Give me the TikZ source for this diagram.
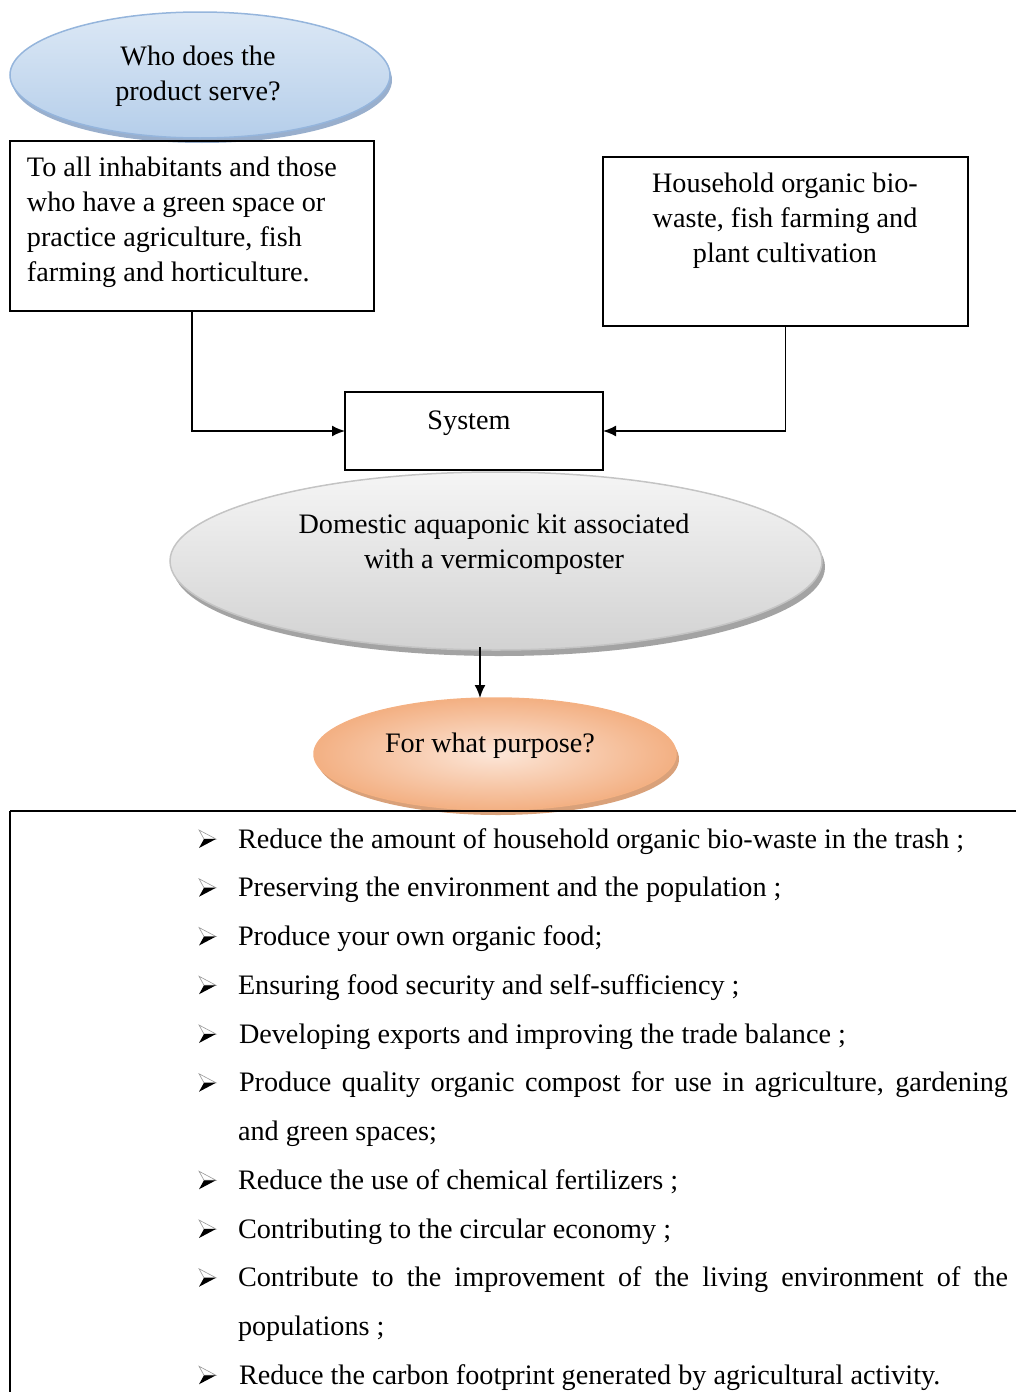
\documentclass[tikz,border=0pt]{standalone}
\usepackage{fontspec}
\setmainfont{Liberation Serif}
\usetikzlibrary{shapes.geometric,arrows.meta}
\definecolor{bluetop}{HTML}{DCE8F5}
\definecolor{bluebot}{HTML}{B5CEEA}
\definecolor{blueline}{HTML}{95B5DC}
\definecolor{blueshad}{HTML}{7F9BC0}
\definecolor{graytop}{HTML}{F5F5F5}
\definecolor{graybot}{HTML}{D2D2D2}
\definecolor{grayline}{HTML}{C4C4C4}
\definecolor{grayshad}{HTML}{A3A3A3}
\definecolor{orin}{HTML}{FCE6D8}
\definecolor{orout}{HTML}{F3B083}
\definecolor{orline}{HTML}{F4B183}
\definecolor{orshad}{HTML}{D9A17A}
\begin{document}
\begin{tikzpicture}[x=1pt,y=-1pt,
  every node/.style={font=\fontsize{28.2}{35}\selectfont, inner sep=0pt, outer sep=0pt},
  box/.style={draw=black,line width=1.5pt,rectangle},
  arr/.style={line width=1.8pt,-{Latex[length=13pt,width=11pt]}},
  item/.style={anchor=base west},
  bulletup/.style={fill=white,draw=gray!80,line width=0.6pt},
  bulletdn/.style={fill=black}]
\useasboundingbox (0,0) rectangle (1016,1392);

% ---- ellipse 1 ----
\fill[blueshad,opacity=0.8] (202,80) ellipse [x radius=190, y radius=63];
\node[ellipse, minimum width=380pt, minimum height=126pt, draw=blueline, line width=1.5pt,
      top color=bluetop, bottom color=bluebot] (e1) at (200,75) {};
\node[anchor=north, align=center] (e1t) at (198,45.7) {Who does the\\product serve?};

% ---- boxes ----
\node[box, minimum width=364pt, minimum height=170pt] (b1) at (192,226) {};
\node[anchor=north west, align=left] (b1t) at (27,156.7)
  {To all inhabitants and those\\who have a green space or\\practice agriculture, fish\\farming and horticulture.};
\node[box, minimum width=365pt, minimum height=169pt] (b2) at (785.5,241.5) {};
\node[anchor=north, align=center] (b2t) at (785,172.7)
  {Household organic bio-\\waste, fish farming and\\plant cultivation};
\node[box, minimum width=258pt, minimum height=78pt] (sys) at (474,431) {};
\node[anchor=base] (syst) at (469,429) {System};

\draw[arr] (b1.south) |- (sys.west);
\draw[arr] (b2.south) |- (sys.east);

% ---- ellipse 2 ----
\fill[grayshad] (499,567) ellipse [x radius=326, y radius=89];
\node[ellipse, minimum width=652pt, minimum height=178pt, draw=grayline, line width=1.5pt,
      top color=graytop, bottom color=graybot] (e2) at (496,561) {};
\node[anchor=north, align=center] (e2t) at (494,513.7)
  {Domestic aquaponic kit associated\\with a vermicomposter};

% ---- ellipse 3 ----
\fill[orshad] (498,759) ellipse [x radius=181, y radius=56];
\node[ellipse, minimum width=362pt, minimum height=112pt, draw=orline, line width=1.5pt,
      inner color=orin, outer color=orout] (e3) at (495,754) {};
\node[anchor=base] (e3t) at (490,752) {For what purpose?};

\coordinate (a0) at (480,647);
\draw[arr] (a0) -- (a0 |- e3.north);

% ---- list frame ----
\coordinate (fTL) at (10,811);
\coordinate (fTR) at (1016,811);
\coordinate (fBL) at (10,1392);
\draw[line width=2pt] (fTR) -- (fTL);
\draw[line width=1.2pt] (fTL) -- (fBL);

% ---- bullets ----
\foreach \y in {848,896.75,945.5,994.25,1043,1091.75,1189.25,1238,1286.75,1384.25}{
  \draw[bulletup] (199,\y-18) -- (216,\y-9) -- (204,\y-9) -- cycle;
  \fill[bulletdn] (204,\y-9) -- (216,\y-9) -- (199,\y) -- cycle;
}

\node[item] (i0) at (238,848) {Reduce the amount of household organic bio-waste in the trash ;};
\node[item] (i1) at (238,896.75) {Preserving the environment and the population ;};
\node[item] (i2) at (238,945.5) {Produce your own organic food;};
\node[item] (i3) at (238,994.25) {Ensuring food security and self-sufficiency ;};
\node[item] (i4) at (239,1043) {Developing exports and improving the trade balance ;};
\node[item] (i5) at (239,1091.75) {\makebox[769pt][s]{Produce quality organic compost for use in agriculture, gardening}};
\node[item] (i5b) at (238,1140.5) {and green spaces;};
\node[item] (i6) at (238,1189.25) {Reduce the use of chemical fertilizers ;};
\node[item] (i7) at (238,1238) {Contributing to the circular economy ;};
\node[item] (i8) at (238,1286.75) {\makebox[770pt][s]{Contribute to the improvement of the living environment of the}};
\node[item] (i8b) at (238,1335.5) {populations ;};
\node[item] (i9) at (239,1384.25) {Reduce the carbon footprint generated by agricultural activity.};
\end{tikzpicture}
\end{document}
